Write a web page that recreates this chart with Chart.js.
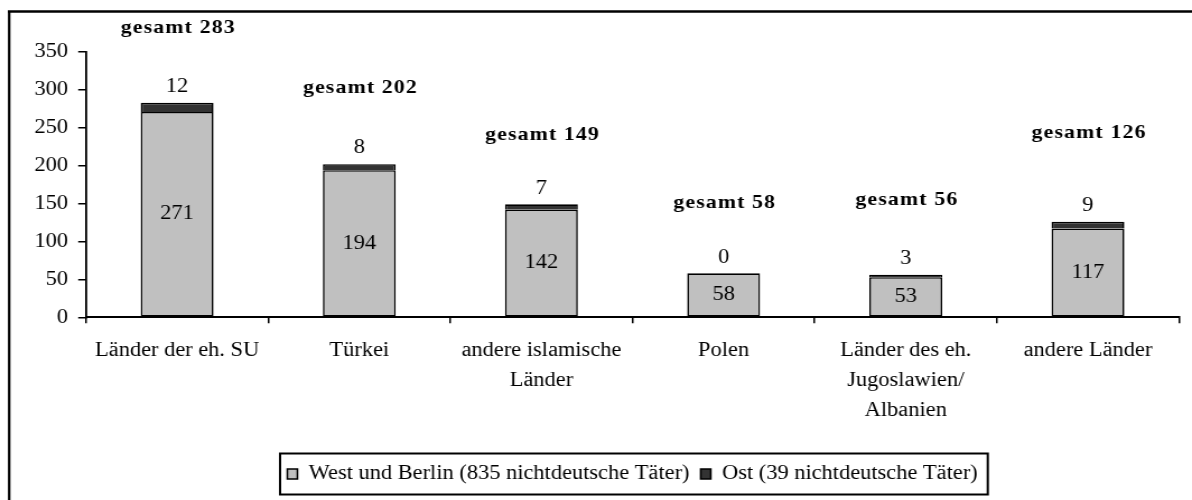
<!DOCTYPE html>
<html>
<head>
<meta charset="utf-8">
<script src="https://cdn.jsdelivr.net/npm/chart.js@4/dist/chart.umd.min.js"></script>
<style>
html,body{margin:0;padding:0;background:#fff;overflow:hidden}
canvas{display:block}
</style>
</head>
<body>
<canvas id="c" width="1064" height="500" style="width:1192px;height:500px"></canvas>
<script>
// ---- data ----
const categories = [
  "Länder der eh. SU",
  "Türkei",
  ["andere islamische", "Länder"],
  "Polen",
  ["Länder des eh.", "Jugoslawien/", "Albanien"],
  "andere Länder"
];
const westValues = [271, 194, 142, 58, 53, 117];
const ostValues = [12, 8, 7, 0, 3, 9];
const seriesNames = ["West und Berlin (835 nichtdeutsche Täter)", "Ost (39 nichtdeutsche Täter)"];
const totalPrefix = "gesamt";
const yMin = 0, yMax = 350, yStep = 50;

// ---- styling ----
const FONT = "'Liberation Serif','Times New Roman',serif";

const framePlugin = {
  id: 'frame',
  beforeDraw(chart) {
    const ctx = chart.ctx;
    ctx.save();
    ctx.fillStyle = '#fff';
    ctx.fillRect(0, 0, chart.width, chart.height);
    ctx.strokeStyle = '#000';
    ctx.lineWidth = 2.2;
    ctx.beginPath();
    ctx.moveTo(8.2, chart.height + 5);
    ctx.lineTo(8.2, 11.5);
    ctx.stroke();
    ctx.lineWidth = 2.5;
    ctx.beginPath();
    ctx.moveTo(7, 11.5);
    ctx.lineTo(chart.width + 5, 11.5);
    ctx.stroke();
    ctx.restore();
  },
  afterDraw(chart) {
    const lg = chart.legend;
    if (!lg || !lg.legendHitBoxes || !lg.legendHitBoxes.length) return;
    const hb = lg.legendHitBoxes;
    const left = Math.min(...hb.map(h => h.left)) - 6.5;
    const right = Math.max(...hb.map(h => h.left + h.width)) + 9;
    const cy = hb[0].top + hb[0].height / 2;
    const ctx = chart.ctx;
    ctx.save();
    ctx.strokeStyle = '#000';
    ctx.lineWidth = 2;
    ctx.strokeRect(left, cy - 20.5, right - left, 41);
    ctx.restore();
  }
};

const labelPlugin = {
  id: 'valueLabels',
  afterDatasetsDraw(chart, args, opts) {
    const ctx = chart.ctx;
    const m0 = chart.getDatasetMeta(0);
    const m1 = chart.getDatasetMeta(1);
    const ys = chart.scales.y;
    ctx.save();
    ctx.fillStyle = '#000';
    ctx.textAlign = 'center';
    ctx.textBaseline = 'middle';
    ctx.font = `20px ${FONT}`;
    m0.data.forEach((bar, i) => {
      ctx.fillText(String(westValues[i]), bar.x, (bar.y + bar.base) / 2);
    });
    m1.data.forEach((bar, i) => {
      ctx.fillText(String(ostValues[i]), bar.x, Math.min(bar.y, bar.base) - opts.topOffset);
    });
    ctx.font = `bold 19.5px ${FONT}`;
    try { ctx.letterSpacing = '1px'; } catch (e) {}
    m1.data.forEach((bar, i) => {
      const total = westValues[i] + ostValues[i];
      ctx.fillText(totalPrefix + ' ' + total, bar.x + 1, ys.getPixelForValue(opts.totalLabelAt[i]));
    });
    ctx.restore();
  }
};

new Chart(document.getElementById('c'), {
  type: 'bar',
  data: {
    labels: categories,
    datasets: [
      {
        label: seriesNames[0],
        data: westValues,
        backgroundColor: '#c0c0c0',
        borderColor: '#000',
        borderWidth: 1.6,
        borderSkipped: false,
        categoryPercentage: 1,
        barPercentage: 0.4
      },
      {
        label: seriesNames[1],
        data: ostValues,
        backgroundColor: '#333333',
        borderColor: '#000',
        borderWidth: 1.6,
        borderSkipped: 'bottom',
        categoryPercentage: 1,
        barPercentage: 0.4
      }
    ]
  },
  options: {
    responsive: false,
    devicePixelRatio: 1,
    animation: false,
    layout: { padding: { top: 52, left: 0, right: 11.6, bottom: 6 } },
    scales: {
      x: {
        stacked: true,
        grid: { offset: true, drawOnChartArea: false, drawTicks: true, tickLength: 6, color: '#000', lineWidth: 1.5 },
        border: { display: true, color: '#000', width: 2 },
        ticks: {
          autoSkip: false, maxRotation: 0, minRotation: 0, padding: 12, color: '#000',
          font: { family: FONT, size: 20, lineHeight: 1.5 }
        },
        afterFit(scale) { scale.height = 136.7; }
      },
      y: {
        stacked: true,
        min: yMin, max: yMax,
        ticks: { stepSize: yStep, padding: 9, color: '#000', font: { family: FONT, size: 20 } },
        grid: { drawOnChartArea: false, drawTicks: true, tickLength: 7, color: '#000', lineWidth: 1.5 },
        border: { display: true, color: '#000', width: 1.8 },
        afterFit(scale) { scale.width = 76.8; }
      }
    },
    plugins: {
      legend: {
        position: 'bottom',
        fullSize: false,
        labels: {
          boxWidth: 9, boxHeight: 10, padding: 10, color: '#000',
          font: { family: FONT, size: 20 }
        }
      },
      tooltip: { enabled: false },
      valueLabels: { topOffset: 16, totalLabelAt: [382, 302, 241, 151, 155, 243] }
    }
  },
  plugins: [framePlugin, labelPlugin]
});
</script>
</body>
</html>
